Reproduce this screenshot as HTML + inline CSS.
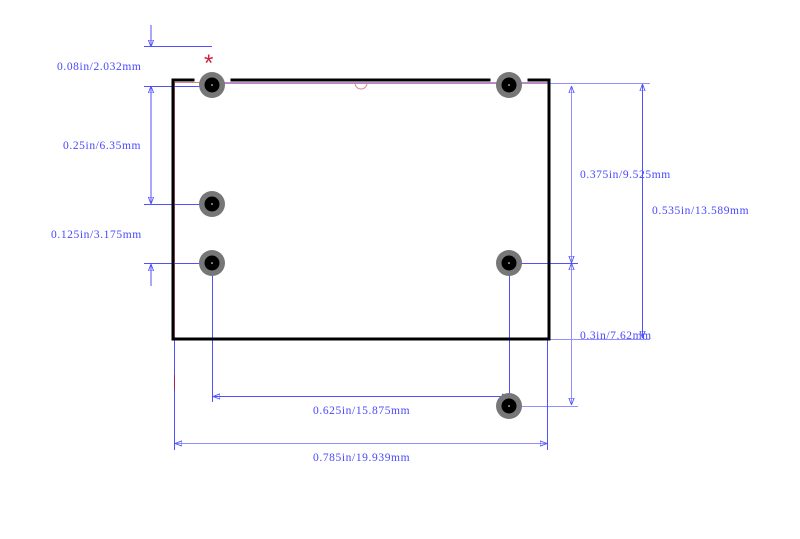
<!DOCTYPE html>
<html><head><meta charset="utf-8"><style>
html,body{margin:0;padding:0;background:#fff;width:800px;height:539px;overflow:hidden}
text{font-family:"Liberation Serif","Noto Serif CJK SC",serif;font-size:11.5px;fill:#4848ff;letter-spacing:0.6px}
</style></head><body>
<svg width="800" height="539" viewBox="0 0 800 539" xmlns="http://www.w3.org/2000/svg">
<defs>
<marker id="a" viewBox="0 0 8 8" refX="8" refY="4" markerWidth="7" markerHeight="7" orient="auto-start-reverse"><path d="M0,1 L8,4 L0,7 Z" fill="none" stroke="#5050ff" stroke-width="1"/></marker>
</defs>
<g stroke="#5050ff" stroke-width="1" fill="none">
<line x1="151" y1="25" x2="151" y2="47" marker-end="url(#a)"/>
<line x1="144" y1="46.5" x2="212" y2="46.5"/>
<line x1="151" y1="86" x2="151" y2="204" marker-start="url(#a)" marker-end="url(#a)"/>
<line x1="144" y1="86.5" x2="212" y2="86.5"/>
<line x1="144" y1="204.5" x2="212" y2="204.5"/>
<line x1="144" y1="263.5" x2="212" y2="263.5"/>
<line x1="151" y1="286" x2="151" y2="264" marker-end="url(#a)"/>
<line x1="210" y1="83.5" x2="650" y2="83.5" stroke="#9090ff"/>
<line x1="571.5" y1="86" x2="571.5" y2="263" marker-start="url(#a)" marker-end="url(#a)" stroke="#9090ff"/>
<line x1="571.5" y1="263" x2="571.5" y2="405" marker-start="url(#a)" marker-end="url(#a)" stroke="#9090ff"/>
<line x1="509" y1="263.5" x2="578" y2="263.5"/>
<line x1="509" y1="406.5" x2="578" y2="406.5" stroke="#9090ff"/>
<line x1="642.5" y1="84" x2="642.5" y2="338" marker-start="url(#a)" marker-end="url(#a)"/>
<line x1="549" y1="339.5" x2="650" y2="339.5" stroke="#9090ff"/>
<line x1="212.5" y1="263" x2="212.5" y2="402"/>
<line x1="509.5" y1="263" x2="509.5" y2="406"/>
<line x1="213" y1="396.5" x2="509" y2="396.5" marker-start="url(#a)" marker-end="url(#a)"/>
<line x1="174.5" y1="339" x2="174.5" y2="450"/>
<line x1="547.5" y1="339" x2="547.5" y2="450"/>
<line x1="175" y1="443.5" x2="547" y2="443.5" marker-start="url(#a)" marker-end="url(#a)" stroke="#9090ff"/>
</g>
<g stroke="#e08090" stroke-width="1" fill="none">
<line x1="174" y1="82.5" x2="549" y2="82.5"/>
<line x1="174.5" y1="82" x2="174.5" y2="338"/>
<path d="M355,83 A6,6 0 0 0 367,83"/>
</g>
<line x1="174.5" y1="375" x2="174.5" y2="390" stroke="#a02060" stroke-width="1"/>
<g stroke="#000" stroke-width="3" fill="none" stroke-linecap="square">
<polyline points="193,80 173,80 173,339 549,339 549,80 529,80"/>
<line x1="232" y1="80" x2="489" y2="80"/>
</g>
<g>
<circle cx="212" cy="85" r="13" fill="#777"/><circle cx="212" cy="85" r="7.5" fill="#000"/>
<circle cx="212" cy="204" r="13" fill="#777"/><circle cx="212" cy="204" r="7.5" fill="#000"/>
<circle cx="212" cy="263" r="13" fill="#777"/><circle cx="212" cy="263" r="7.5" fill="#000"/>
<circle cx="509" cy="85" r="13" fill="#777"/><circle cx="509" cy="85" r="7.5" fill="#000"/>
<circle cx="509" cy="263" r="13" fill="#777"/><circle cx="509" cy="263" r="7.5" fill="#000"/>
<circle cx="509" cy="406" r="13" fill="#777"/><circle cx="509" cy="406" r="7.5" fill="#000"/>
</g>
<g fill="#fff"><circle cx="212" cy="85" r="0.8"/><circle cx="212" cy="204" r="0.8"/><circle cx="212" cy="263" r="0.8"/><circle cx="509" cy="85" r="0.8"/><circle cx="509" cy="263" r="0.8"/><circle cx="509" cy="406" r="0.8"/></g>
<text x="204" y="71" style="fill:#d02040;font-size:24px;font-family:'Liberation Sans',sans-serif;letter-spacing:0">*</text>
<text x="57" y="70">0.08in/2.032mm</text>
<text x="63" y="149">0.25in/6.35mm</text>
<text x="51" y="238">0.125in/3.175mm</text>
<text x="580" y="178">0.375in/9.525mm</text>
<text x="652" y="214">0.535in/13.589mm</text>
<text x="580" y="339">0.3in/7.62mm</text>
<text x="313" y="414">0.625in/15.875mm</text>
<text x="313" y="461">0.785in/19.939mm</text>
</svg>
</body></html>
